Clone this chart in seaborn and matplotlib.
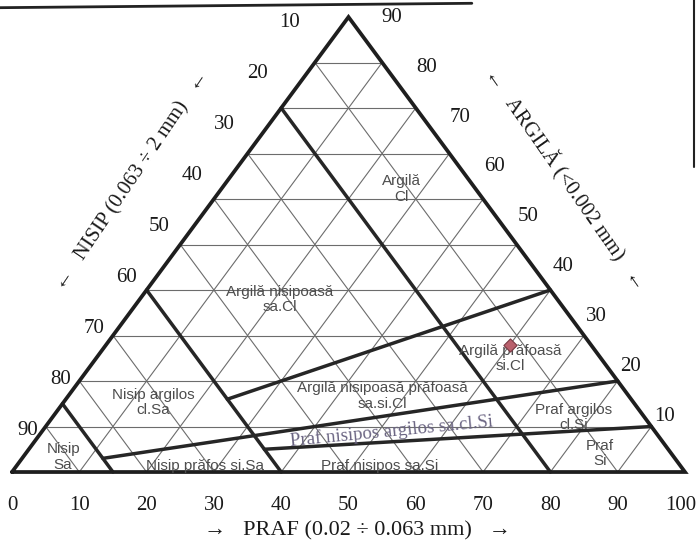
import numpy as np
import pandas as pd
import matplotlib.pyplot as plt
import seaborn as sns
from matplotlib.lines import Line2D

# valori pe laturi (gradatii)
ticks = [10, 20, 30, 40, 50, 60, 70, 80, 90]
bottom_ticks = [0, 10, 20, 30, 40, 50, 60, 70, 80, 90, 100]

# limitele claselor, capete in (nisip, praf, argila) %
seg_start = [(20, 0, 80), (60, 0, 40), (85, 0, 15), (60, 24, 16), (85, 12, 3), (60, 35, 5)]
seg_end = [(20, 80, 0), (60, 40, 0), (85, 15, 0), (0, 60, 40), (0, 80, 20), (0, 90, 10)]

# proba (nisip, praf, argila)
sample = (12, 60, 28)

class_names = [
    'Argilă\nCl', 'Argilă nisipoasă\nsa.Cl', 'Nisip argilos\ncl.Sa', 'Nisip\nSa',
    'Nisip prăfos si.Sa', 'Argilă nisipoasă prăfoasă\nsa.si.Cl', 'Praf nisipos sa.Si',
    'Argilă prăfoasă\nsi.Cl', 'Praf argilos\ncl.Si', 'Praf\nSi',
]
class_xy = [(57.9, 62.2), (39.8, 38.0), (21.0, 15.2), (7.6, 3.3), (28.7, 1.4),
            (55.0, 16.7), (54.7, 1.3), (74.0, 24.9), (83.4, 11.9), (87.4, 4.1)]


def tern(sand, silt, clay):
    return silt + clay / 2.0, clay


# grila triunghiulara
rows = []
for k in ticks:
    for i, (a, b) in enumerate([((100 - k, 0, k), (0, 100 - k, k)),
                                ((100 - k, k, 0), (0, k, 100 - k)),
                                ((k, 100 - k, 0), (k, 0, 100 - k))]):
        for p in (a, b):
            u, v = tern(*p)
            rows.append({'seg': f'g{k}_{i}', 'u': u, 'v': v})
grid = pd.DataFrame(rows)

rows = []
for j, (a, b) in enumerate(zip(seg_start, seg_end)):
    for p in (a, b):
        u, v = tern(*p)
        rows.append({'seg': j, 'u': u, 'v': v})
bounds = pd.DataFrame(rows)

corners = [(100, 0, 0), (0, 100, 0), (0, 0, 100), (100, 0, 0)]
border = pd.DataFrame([dict(zip(('u', 'v'), tern(*c))) for c in corners])

sns.set_theme(style='white')
plt.rcParams['font.family'] = ['Liberation Serif', 'DejaVu Serif']

fig = plt.figure(figsize=(6.99, 5.49), dpi=100)
ax = fig.add_axes([0, 0, 1, 1])

sns.lineplot(data=grid, x='u', y='v', units='seg', estimator=None, sort=False,
             color='#6c6c6c', lw=0.8, ax=ax, legend=False)
sns.lineplot(data=bounds, x='u', y='v', units='seg', estimator=None, sort=False,
             color='#262626', lw=2.5, ax=ax, legend=False)
ax.plot(border['u'], border['v'], color='#1e1e1e', lw=2.7, solid_joinstyle='miter')

su, sv = tern(*sample)
sns.scatterplot(x=[su], y=[sv], marker='D', s=45, color='#b9606c',
                edgecolor='#7a3a44', linewidth=0.8, ax=ax, zorder=5)

for name, (u, v) in zip(class_names, class_xy):
    ax.text(u, v, name, ha='center', va='center', fontsize=11, color='#4d4d4d',
            family=['Liberation Sans', 'DejaVu Sans'], linespacing=1.1)
ax.text(56.4, 9.0, 'Praf nisipos argilos sa.cl.Si', ha='center', va='center',
        fontsize=13.5, color='#6a6482', rotation=5.5)

# gradatii
for t in bottom_ticks:
    x = min(t, 99.4)
    ax.text(x, -7.3, str(t), ha='center', va='center', fontsize=15, color='#1a1a1a')
lu = np.linspace(2.4, 41.3, len(ticks))
lv = np.linspace(9.2, 98.9, len(ticks))
for t, x, y in zip(ticks, lu, lv):
    ax.text(x, y, str(100 - t), ha='center', va='center', fontsize=15, color='#1a1a1a')
ru = np.linspace(97.0, 56.5, len(ticks))
rv = np.linspace(12.1, 100.0, len(ticks))
for t, x, y in zip(ticks, ru, rv):
    ax.text(x, y, str(t), ha='center', va='center', fontsize=15, color='#1a1a1a')

# titluri laturi
ax.text(51.3, -13.0, '→   PRAF (0.02 ÷ 0.063 mm)   →', ha='center', va='center',
        fontsize=16, color='#1a1a1a')
ax.text(17.8, 64.0, '←   NISIP (0.063 ÷ 2 mm)   ←', ha='center', va='center',
        fontsize=15, color='#1a1a1a', rotation=56)
ax.text(82.3, 64.4, '←   ARGILĂ (<0.002 mm)   ←', ha='center', va='center',
        fontsize=15, color='#1a1a1a', rotation=-55)

ax.set_xlim(-1.78, 102.08)
ax.set_ylim(-16.92, 103.74)
ax.axis('off')

# marginile paginii scanate
fig.add_artist(Line2D([0, 0.675], [0.986, 0.994], transform=fig.transFigure,
                      color='#222222', lw=2))
fig.add_artist(Line2D([0.993, 0.993], [1.0, 0.696], transform=fig.transFigure,
                      color='#222222', lw=1.5))

fig.savefig('out.png', dpi=100, facecolor='white')
